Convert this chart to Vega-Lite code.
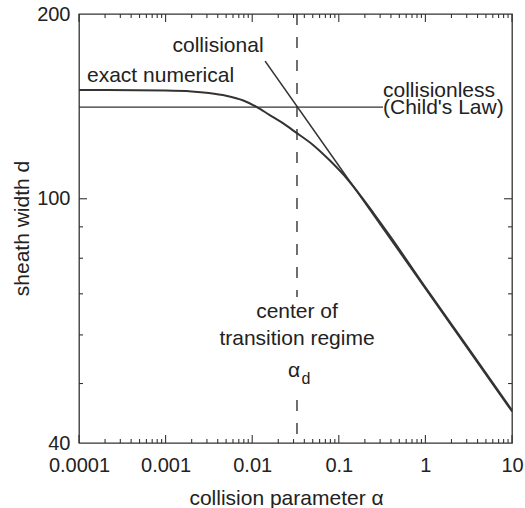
{
  "$schema": "https://vega.github.io/schema/vega-lite/v6.json",
  "width": 433,
  "height": 429,
  "autosize": "none",
  "padding": {"left": 79, "top": 14, "right": 13, "bottom": 65},
  "background": "white",
  "config": {
    "view": {"stroke": "#333", "strokeWidth": 1.3},
    "font": "Liberation Sans"
  },
  "datasets": {
    "exact": [
      {"alpha": 0.0001, "d": 150.4},
      {"alpha": 0.001, "d": 150.1},
      {"alpha": 0.002, "d": 149.6},
      {"alpha": 0.00316, "d": 148.7},
      {"alpha": 0.005, "d": 147.2},
      {"alpha": 0.0079, "d": 144.6},
      {"alpha": 0.0112, "d": 141.2},
      {"alpha": 0.0158, "d": 137.0},
      {"alpha": 0.0224, "d": 132.9},
      {"alpha": 0.0316, "d": 128.4},
      {"alpha": 0.05, "d": 122.5},
      {"alpha": 0.079, "d": 115.4},
      {"alpha": 0.126, "d": 107.6},
      {"alpha": 0.178, "d": 101.2},
      {"alpha": 0.251, "d": 94.8},
      {"alpha": 0.398, "d": 86.6},
      {"alpha": 1, "d": 71.7},
      {"alpha": 3.16, "d": 57.0},
      {"alpha": 10, "d": 45.2}
    ],
    "collisional": [
      {"alpha": 0.0141, "d": 167.6},
      {"alpha": 10, "d": 45.0}
    ],
    "collisionless": [
      {"alpha": 0.0001, "d": 141},
      {"alpha": 0.324, "d": 141}
    ],
    "marker": [
      {"alpha": 0.0329, "d": 200, "d2": 69.2},
      {"alpha": 0.0329, "d": 47.0, "d2": 40}
    ],
    "labels": [
      {"label": "collisional", "alpha": 0.00403, "d": 173.4},
      {"label": "exact numerical", "alpha": 0.0001237, "d": 155.0},
      {"label": "collisionless", "alpha": 0.3236, "d": 146.5},
      {"label": "(Child's Law)", "alpha": 0.3236, "d": 137.4},
      {"label": "center of", "alpha": 0.0329, "d": 63.9},
      {"label": "transition regime", "alpha": 0.0329, "d": 57.8},
      {"label": "α", "alpha": 0.0304, "d": 51.2},
      {"label": "d", "alpha": 0.0418, "d": 49.9}
    ],
    "xticks": [
      {"alpha": 0.0001, "kind": "major"}, {"alpha": 0.001, "kind": "major"}, {"alpha": 0.01, "kind": "major"},
      {"alpha": 0.1, "kind": "major"}, {"alpha": 1, "kind": "major"}, {"alpha": 10, "kind": "major"},
      {"alpha": 0.0002, "kind": "minor"}, {"alpha": 0.0003, "kind": "minor"}, {"alpha": 0.0004, "kind": "minor"}, {"alpha": 0.0005, "kind": "minor"}, {"alpha": 0.0006, "kind": "minor"}, {"alpha": 0.0007, "kind": "minor"}, {"alpha": 0.0008, "kind": "minor"}, {"alpha": 0.0009, "kind": "minor"},
      {"alpha": 0.002, "kind": "minor"}, {"alpha": 0.003, "kind": "minor"}, {"alpha": 0.004, "kind": "minor"}, {"alpha": 0.005, "kind": "minor"}, {"alpha": 0.006, "kind": "minor"}, {"alpha": 0.007, "kind": "minor"}, {"alpha": 0.008, "kind": "minor"}, {"alpha": 0.009, "kind": "minor"},
      {"alpha": 0.02, "kind": "minor"}, {"alpha": 0.03, "kind": "minor"}, {"alpha": 0.04, "kind": "minor"}, {"alpha": 0.05, "kind": "minor"}, {"alpha": 0.06, "kind": "minor"}, {"alpha": 0.07, "kind": "minor"}, {"alpha": 0.08, "kind": "minor"}, {"alpha": 0.09, "kind": "minor"},
      {"alpha": 0.2, "kind": "minor"}, {"alpha": 0.3, "kind": "minor"}, {"alpha": 0.4, "kind": "minor"}, {"alpha": 0.5, "kind": "minor"}, {"alpha": 0.6, "kind": "minor"}, {"alpha": 0.7, "kind": "minor"}, {"alpha": 0.8, "kind": "minor"}, {"alpha": 0.9, "kind": "minor"},
      {"alpha": 2, "kind": "minor"}, {"alpha": 3, "kind": "minor"}, {"alpha": 4, "kind": "minor"}, {"alpha": 5, "kind": "minor"}, {"alpha": 6, "kind": "minor"}, {"alpha": 7, "kind": "minor"}, {"alpha": 8, "kind": "minor"}, {"alpha": 9, "kind": "minor"}
    ],
    "yticks": [
      {"d": 100, "kind": "major"},
      {"d": 50, "kind": "minor"}, {"d": 60, "kind": "minor"}, {"d": 70, "kind": "minor"}, {"d": 80, "kind": "minor"}, {"d": 90, "kind": "minor"}
    ]
  },
  "layer": [
    {
      "data": {"name": "exact"},
      "mark": {"type": "line", "color": "#333", "strokeWidth": 2, "interpolate": "monotone"},
      "encoding": {
        "x": {
          "field": "alpha", "type": "quantitative",
          "scale": {"type": "log", "domain": [0.0001, 10], "nice": false},
          "axis": {
            "orient": "bottom",
            "grid": false,
            "domain": false,
            "ticks": false,
            "title": "collision parameter α",
            "titleFont": "Liberation Sans", "titleFontSize": 21, "titleFontWeight": "normal", "titleColor": "#222",
            "titleX": 207, "titleY": 61, "titleBaseline": "alphabetic", "titleAlign": "center",
            "values": [0.0001, 0.001, 0.01, 0.1, 1, 10],
            "labelExpr": "'' + datum.value",
            "labelFont": "Liberation Sans", "labelFontSize": 20, "labelColor": "#222",
            "labelPadding": 28,
            "labelBaseline": "alphabetic",
            "labelFlush": false,
            "labelOverlap": false
          }
        },
        "y": {
          "field": "d", "type": "quantitative",
          "scale": {"type": "log", "domain": [40, 200], "nice": false},
          "axis": {
            "orient": "left",
            "grid": false,
            "domain": false,
            "ticks": false,
            "title": "sheath width d",
            "titleFont": "Liberation Sans", "titleFontSize": 21, "titleFontWeight": "normal", "titleColor": "#222",
            "titleX": -51, "titleY": 214, "titleAngle": -90, "titleBaseline": "alphabetic", "titleAlign": "center",
            "values": [40, 100, 200],
            "labelExpr": "'' + datum.value",
            "labelFont": "Liberation Sans", "labelFontSize": 20, "labelColor": "#222",
            "labelPadding": 9,
            "labelFlush": false,
            "labelOverlap": false
          }
        }
      }
    },
    {
      "data": {"name": "collisional"},
      "mark": {"type": "line", "color": "#333", "strokeWidth": 1.6},
      "encoding": {
        "x": {"field": "alpha", "type": "quantitative"},
        "y": {"field": "d", "type": "quantitative"}
      }
    },
    {
      "data": {"name": "collisionless"},
      "mark": {"type": "line", "color": "#333", "strokeWidth": 1.3},
      "encoding": {
        "x": {"field": "alpha", "type": "quantitative"},
        "y": {"field": "d", "type": "quantitative"}
      }
    },
    {
      "data": {"name": "marker"},
      "mark": {"type": "rule", "color": "#333", "strokeWidth": 1.4, "strokeDash": [11, 12]},
      "encoding": {
        "x": {"field": "alpha", "type": "quantitative"},
        "y": {"field": "d", "type": "quantitative"},
        "y2": {"field": "d2"}
      }
    },
    {
      "data": {"name": "xticks"},
      "transform": [{"filter": {"field": "kind", "equal": "major"}}],
      "mark": {"type": "rule", "color": "#333", "strokeWidth": 1.1},
      "encoding": {
        "x": {"field": "alpha", "type": "quantitative"},
        "y": {"datum": 40},
        "y2": {"datum": 41.22}
      }
    },
    {
      "data": {"name": "xticks"},
      "transform": [{"filter": {"field": "kind", "equal": "minor"}}],
      "mark": {"type": "rule", "color": "#333", "strokeWidth": 1.1},
      "encoding": {
        "x": {"field": "alpha", "type": "quantitative"},
        "y": {"datum": 40},
        "y2": {"datum": 40.6}
      }
    },
    {
      "data": {"name": "xticks"},
      "transform": [{"filter": {"field": "kind", "equal": "major"}}],
      "mark": {"type": "rule", "color": "#333", "strokeWidth": 1.1},
      "encoding": {
        "x": {"field": "alpha", "type": "quantitative"},
        "y": {"datum": 200},
        "y2": {"datum": 194.08}
      }
    },
    {
      "data": {"name": "xticks"},
      "transform": [{"filter": {"field": "kind", "equal": "minor"}}],
      "mark": {"type": "rule", "color": "#333", "strokeWidth": 1.1},
      "encoding": {
        "x": {"field": "alpha", "type": "quantitative"},
        "y": {"datum": 200},
        "y2": {"datum": 197.02}
      }
    },
    {
      "data": {"name": "yticks"},
      "transform": [{"filter": {"field": "kind", "equal": "major"}}],
      "mark": {"type": "rule", "color": "#333", "strokeWidth": 1.1},
      "encoding": {
        "y": {"field": "d", "type": "quantitative"},
        "x": {"datum": 0.0001},
        "x2": {"datum": 0.00012372}
      }
    },
    {
      "data": {"name": "yticks"},
      "transform": [{"filter": {"field": "kind", "equal": "minor"}}],
      "mark": {"type": "rule", "color": "#333", "strokeWidth": 1.1},
      "encoding": {
        "y": {"field": "d", "type": "quantitative"},
        "x": {"datum": 0.0001},
        "x2": {"datum": 0.00011122}
      }
    },
    {
      "data": {"name": "yticks"},
      "transform": [{"filter": {"field": "kind", "equal": "major"}}],
      "mark": {"type": "rule", "color": "#333", "strokeWidth": 1.1},
      "encoding": {
        "y": {"field": "d", "type": "quantitative"},
        "x": {"datum": 10},
        "x2": {"datum": 8.083}
      }
    },
    {
      "data": {"name": "yticks"},
      "transform": [{"filter": {"field": "kind", "equal": "minor"}}],
      "mark": {"type": "rule", "color": "#333", "strokeWidth": 1.1},
      "encoding": {
        "y": {"field": "d", "type": "quantitative"},
        "x": {"datum": 10},
        "x2": {"datum": 8.991}
      }
    },
    {
      "data": {"name": "labels"},
      "transform": [{"filter": {"field": "label", "oneOf": ["exact numerical", "collisionless", "(Child's Law)"]}}],
      "mark": {"type": "text", "align": "left", "baseline": "alphabetic", "fontSize": 21, "color": "#222", "font": "Liberation Sans"},
      "encoding": {
        "x": {"field": "alpha", "type": "quantitative"},
        "y": {"field": "d", "type": "quantitative"},
        "text": {"field": "label"}
      }
    },
    {
      "data": {"name": "labels"},
      "transform": [{"filter": {"field": "label", "oneOf": ["collisional", "center of", "transition regime", "α"]}}],
      "mark": {"type": "text", "align": "center", "baseline": "alphabetic", "fontSize": 21, "color": "#222", "font": "Liberation Sans"},
      "encoding": {
        "x": {"field": "alpha", "type": "quantitative"},
        "y": {"field": "d", "type": "quantitative"},
        "text": {"field": "label"}
      }
    },
    {
      "data": {"name": "labels"},
      "transform": [{"filter": {"field": "label", "equal": "d"}}],
      "mark": {"type": "text", "align": "center", "baseline": "alphabetic", "fontSize": 16, "color": "#222", "font": "Liberation Sans"},
      "encoding": {
        "x": {"field": "alpha", "type": "quantitative"},
        "y": {"field": "d", "type": "quantitative"},
        "text": {"field": "label"}
      }
    }
  ]
}
